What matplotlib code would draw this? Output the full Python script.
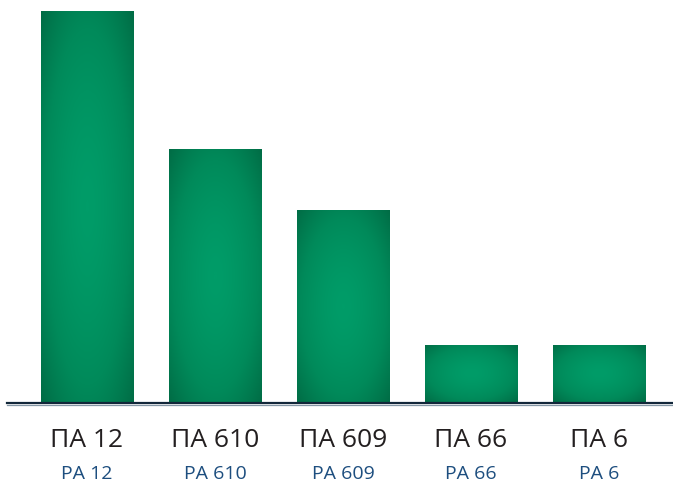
import numpy as np
import matplotlib.pyplot as plt
from matplotlib.colors import LinearSegmentedColormap

# Relative values for each polyamide grade
grades_ru = ["ПА 12", "ПА 610", "ПА 609", "ПА 66", "ПА 6"]
grades_en = ["РА 12", "РА 610", "РА 609", "РА 66", "РА 6"]
values = [100, 64.7, 49.1, 14.6, 14.6]

plt.rcParams['font.family'] = ['Open Sans', 'DejaVu Sans']

fig = plt.figure(figsize=(6.73, 4.86), dpi=100)
ax = fig.add_axes([7 / 673, 84 / 486, 666 / 673, 391 / 486])

x = np.arange(len(values))
bars = ax.bar(x, values, width=0.72, color='none', edgecolor='none', zorder=2)

# radial shading inside every bar: bright green centre, darker edges
green = LinearSegmentedColormap.from_list('grn', ['#009c68', '#008a5a', '#006c45'])
for b in bars:
    x0, w, h = b.get_x(), b.get_width(), b.get_height()
    gx, gy = np.meshgrid(np.linspace(-1, 1, 200), np.linspace(-1, 1, 200))
    r = np.clip(np.sqrt(gx ** 2 + gy ** 2) / np.sqrt(2), 0, 1)
    im = ax.imshow(r ** 1.6, cmap=green, vmin=0, vmax=1, extent=(x0, x0 + w, 0, h),
                   aspect='auto', origin='lower', zorder=2, interpolation='bilinear')
    im.set_clip_path(b)

ax.set_xlim(-0.625, 4.58)
ax.set_ylim(0, 100)
ax.set_aspect('auto')

# baseline: dark rule with a thin grey line under it
ax.axhline(-0.15, color='#12273a', linewidth=1.6, zorder=3, clip_on=False)
ax.axhline(-0.75, color='#8396a5', linewidth=0.9, zorder=2.9, clip_on=False)

for i in x:
    ax.annotate(grades_ru[i], xy=(i, 0), xytext=(0, -27.5), textcoords='offset points',
                ha='center', va='center', fontsize=19, color='#231f20',
                annotation_clip=False)
    ax.annotate(grades_en[i], xy=(i, 0), xytext=(0, -52), textcoords='offset points',
                ha='center', va='center', fontsize=14, color='#1d4e7f',
                annotation_clip=False)

ax.axis('off')
fig.savefig('out.png', dpi=100)
